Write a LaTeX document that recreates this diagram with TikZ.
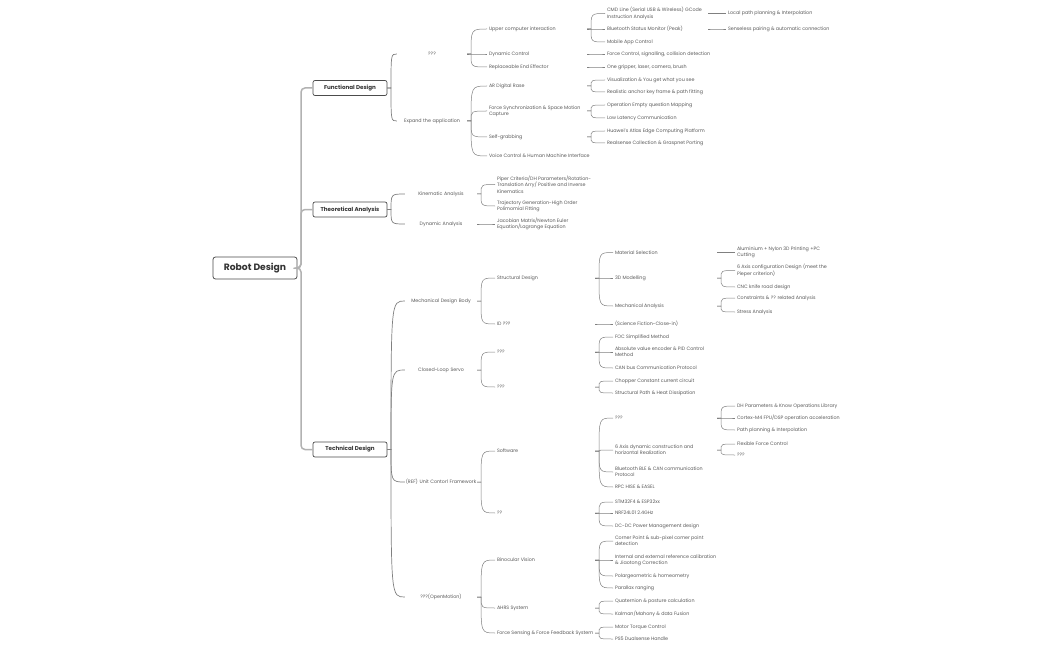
\documentclass[tikz,border=0pt]{standalone}
\usepackage{fontspec}
\setmainfont{Poppins}
\newcommand\smallfont{\fontsize{4.8}{6.3}\selectfont}
\newcommand\lonefont{\fontsize{5.6}{7}\selectfont\bfseries}
\newcommand\rootfont{\fontsize{9.2}{11}\selectfont\bfseries}
\tikzset{
 rootbox/.style={draw=black!70, line width=0.8pt, rounded corners=2.5pt, fill=white, minimum width=84pt, minimum height=22pt, inner sep=0pt, font=\rootfont, text=black!80},
 lonebox/.style={draw=black!70, line width=0.7pt, rounded corners=2pt, fill=white, minimum width=74pt, minimum height=15pt, inner sep=0pt, font=\lonefont, text=black!80},
 ctr/.style={text width=#1, align=center, inner sep=0pt, font=\smallfont, text=black!65},
 lt/.style={anchor=west, align=left, inner xsep=1.8pt, inner ysep=0.5pt, font=\smallfont, text=black!65},
 rootlk/.style={draw=black!30, line width=1.5pt, rounded corners=4pt},
 lk/.style={draw=black!50, line width=0.5pt},
}
\newcommand\mylink[4][]{\draw[lk,#1] (#2.west -| #3,0) -- (#2.west -| #3+4,0) .. controls (#4.west -| #3+4,0) .. (#4.west);}
\begin{document}
\begin{tikzpicture}[x=1pt,y=-1pt]
\useasboundingbox (0,0) rectangle (1050,650);
\fill[white] (0,0) rectangle (1050,650);
% root and level 1
\node[rootbox] (root) at (255,268) {Robot Design};
\node[lonebox] (fd) at (350,88) {Functional Design};
\node[lonebox] (ta) at (350,209.5) {Theoretical Analysis};
\node[lonebox] (td) at (350,449.5) {Technical Design};
\draw[rootlk] (root.east) -- (301,268) |- (fd.west);
\draw[rootlk] (root.east) -- (301,268) |- (ta.west);
\draw[rootlk] (root.east) -- (301,268) |- (td.west);
% level 2
\node[ctr=70pt] (f1) at (432,54) {???};
\node[ctr=70pt] (f2) at (432,121) {Expand the application};
\node[ctr=72pt] (t1) at (441,194) {Kinematic Analysis};
\node[ctr=72pt] (t2) at (441,224) {Dynamic Analysis};
\node[ctr=72pt] (m) at (441,301) {Mechanical Design Body};
\node[ctr=72pt] (c) at (441,370) {Closed-Loop Servo};
\node[ctr=72pt] (r) at (441,482) {(REF) Unit Contorl Framework};
\node[ctr=72pt] (o) at (441,597) {???(OpenMotion)};
\mylink[line width=0.7pt]{fd}{387}{f1}
\mylink[line width=0.7pt]{fd}{387}{f2}
\mylink[line width=0.7pt]{ta}{387}{t1}
\mylink[line width=0.7pt]{ta}{387}{t2}
\mylink[line width=0.7pt]{td}{387}{m}
\mylink[line width=0.7pt]{td}{387}{c}
\mylink[line width=0.7pt]{td}{387}{r}
\mylink[line width=0.7pt]{td}{387}{o}
% functional level 3
\node[lt] (u) at (487,29) {Upper computer interaction};
\node[lt] (dc) at (487,54) {Dynamic Control};
\node[lt] (re) at (487,67) {Replaceable End Effector};
\node[lt] (ar) at (487,86) {AR Digital Rase};
\node[lt] (fs) at (487,111) {Force Synchronization \& Space Motion\\Capture};
\node[lt] (sg) at (487,137) {Self-grabbing};
\node[lt] (vc) at (487,156) {Voice Control \& Human Machine Interface};
\mylink{f1}{467}{u}
\mylink{f1}{467}{dc}
\mylink{f1}{467}{re}
\mylink{f2}{467}{ar}
\mylink{f2}{467}{fs}
\mylink{f2}{467}{sg}
\mylink{f2}{467}{vc}
% functional level 4
\node[lt] (cmd) at (605,13.5) {CMD Line (Serial USB \& Wireless) GCode\\Instruction Analysis};
\node[lt] (bt) at (605,29) {Bluetooth Status Monitor (Peak)};
\node[lt] (ma) at (605,42) {Mobile App Control};
\node[lt] (fc) at (605,54) {Force Control, signalling, collision detection};
\node[lt] (og) at (605,67) {One gripper, laser, camera, brush};
\node[lt] (vis) at (605,80) {Visualization \& You get what you see};
\node[lt] (rak) at (605,92) {Realistic anchor key frame \& path fitting};
\node[lt] (oe) at (605,105) {Operation Empty question Mapping};
\node[lt] (ll) at (605,118) {Low Latency Communication};
\node[lt] (hw) at (605,131) {Huawei's Atlas Edge Computing Platform};
\node[lt] (rs) at (605,143) {Realsense Collection \& Graspnet Porting};
\mylink{u}{587}{cmd}
\mylink{u}{587}{bt}
\mylink{u}{587}{ma}
\mylink{dc}{587}{fc}
\mylink{re}{587}{og}
\mylink{ar}{587}{vis}
\mylink{ar}{587}{rak}
\mylink{fs}{587}{oe}
\mylink{fs}{587}{ll}
\mylink{sg}{587}{hw}
\mylink{sg}{587}{rs}
% functional level 5
\node[lt] (lp) at (726,13.5) {Local path planning \& Interpolation};
\node[lt] (sp) at (726,29) {Senseless pairing \& automatic connection};
\mylink{cmd}{708}{lp}
\mylink{bt}{708}{sp}
% theoretical level 3
\node[lt] (pc) at (495,184.5) {Piper Criteria/DH Parameters/Rotation-\\Translation Arry/ Positive and Inverse\\Kinematics};
\node[lt] (tg) at (495,206) {Trajectory Generation-High Order\\Polimomial Fitting};
\node[lt] (jm) at (495,224) {Jacobian Matrix/Newton Euler\\Equation/Lagrange Equation};
\mylink{t1}{477}{pc}
\mylink{t1}{477}{tg}
\mylink{t2}{477}{jm}
% technical level 3
\node[lt] (sd) at (495,278) {Structural Design};
\node[lt] (id) at (495,324) {ID ???};
\node[lt] (s1) at (495,352) {???};
\node[lt] (s2) at (495,387) {???};
\node[lt] (sw) at (495,451) {Software};
\node[lt] (hd) at (495,513) {??};
\node[lt] (bv) at (495,560) {Binocular Vision};
\node[lt] (ah) at (495,608) {AHRS System};
\node[lt] (fsf) at (495,633) {Force Sensing \& Force Feedback System};
\mylink{m}{477}{sd}
\mylink{m}{477}{id}
\mylink{c}{477}{s1}
\mylink{c}{477}{s2}
\mylink{r}{477}{sw}
\mylink{r}{477}{hd}
\mylink{o}{477}{bv}
\mylink{o}{477}{ah}
\mylink{o}{477}{fsf}
% technical level 4
\node[lt] (ms) at (613,252.5) {Material Selection};
\node[lt] (dm) at (613,278) {3D Modelling};
\node[lt] (mca) at (613,306) {Mechanical Analysis};
\node[lt] (sf) at (613,324) {(Science Fiction-Close-in)};
\node[lt] (foc) at (613,337) {FOC Simplified Method};
\node[lt] (ave) at (613,352) {Absolute value encoder \& PID Control\\Method};
\node[lt] (can) at (613,368) {CAN bus Communication Protocol};
\node[lt] (cc) at (613,381) {Chopper Constant current circuit};
\node[lt] (sph) at (613,393) {Structural Path \& Heat Dissipation};
\node[lt] (q1) at (613,418) {???};
\node[lt] (sa) at (613,450) {6 Axis dynamic construction and\\horizontal Realization};
\node[lt] (ble) at (613,472) {Bluetooth BLE \& CAN communication\\Protocol};
\node[lt] (rpc) at (613,487) {RPC HISE \& EASEL};
\node[lt] (stm) at (613,502) {STM32F4 \& ESP32xx};
\node[lt] (nrf) at (613,513) {NRF24L01 2.4GHz};
\node[lt] (dcdc) at (613,526) {DC-DC Power Management design};
\node[lt] (cp) at (613,541) {Corner Point \& sub-pixel corner point\\detection};
\node[lt] (iec) at (613,560) {Internal and external reference calibration\\\& Jiaotong Correction};
\node[lt] (pg) at (613,576) {Polargeometric \& homeometry};
\node[lt] (pr) at (613,588) {Parallax ranging};
\node[lt] (qp) at (613,601) {Quaternion \& posture calculation};
\node[lt] (km) at (613,614) {Kalman/Mahony \& data Fusion};
\node[lt] (mt) at (613,627) {Motor Torque Control};
\node[lt] (ps) at (613,639) {PS5 Dualsense Handle};
\mylink{sd}{595}{ms}
\mylink{sd}{595}{dm}
\mylink{sd}{595}{mca}
\mylink{id}{595}{sf}
\mylink{s1}{595}{foc}
\mylink{s1}{595}{ave}
\mylink{s1}{595}{can}
\mylink{s2}{595}{cc}
\mylink{s2}{595}{sph}
\mylink{sw}{595}{q1}
\mylink{sw}{595}{sa}
\mylink{sw}{595}{ble}
\mylink{sw}{595}{rpc}
\mylink{hd}{595}{stm}
\mylink{hd}{595}{nrf}
\mylink{hd}{595}{dcdc}
\mylink{bv}{595}{cp}
\mylink{bv}{595}{iec}
\mylink{bv}{595}{pg}
\mylink{bv}{595}{pr}
\mylink{ah}{595}{qp}
\mylink{ah}{595}{km}
\mylink{fsf}{595}{mt}
\mylink{fsf}{595}{ps}
% technical level 5
\node[lt] (al) at (735,252.5) {Aluminium + Nylon 3D Printing +PC\\Cutting};
\node[lt] (ax) at (735,270.5) {6 Axis configuration Design (meet the\\Pieper criterion)};
\node[lt] (cnc) at (735,287) {CNC knife road design};
\node[lt] (con) at (735,298) {Constraints \& ?? related Analysis};
\node[lt] (sta) at (735,312) {Stress Analysis};
\node[lt] (dh) at (735,406) {DH Parameters \& Know Operations Library};
\node[lt] (cm) at (735,418) {Cortex-M4 FPU/DSP operation acceleration};
\node[lt] (ppi) at (735,430) {Path planning \& Interpolation};
\node[lt] (ffc) at (735,444) {Flexible Force Control};
\node[lt] (q2) at (735,455) {???};
\mylink{ms}{717}{al}
\mylink{dm}{717}{ax}
\mylink{dm}{717}{cnc}
\mylink{mca}{717}{con}
\mylink{mca}{717}{sta}
\mylink{q1}{717}{dh}
\mylink{q1}{717}{cm}
\mylink{q1}{717}{ppi}
\mylink{sa}{717}{ffc}
\mylink{sa}{717}{q2}
\end{tikzpicture}
\end{document}
